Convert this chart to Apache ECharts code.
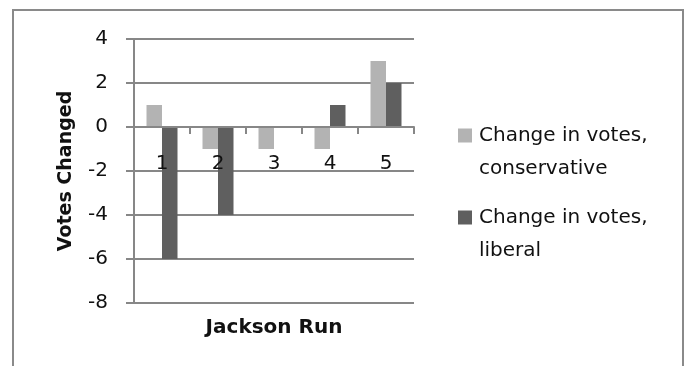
<!DOCTYPE html>
<html>
<head>
<meta charset="utf-8">
<script src="https://cdn.jsdelivr.net/npm/echarts@6/dist/echarts.min.js"></script>
<style>
  html, body { margin: 0; padding: 0; background: #fff; }
  #chart { width: 686px; height: 366px; }
</style>
</head>
<body>
<div id="chart"></div>
<script>
const categories = ["1", "2", "3", "4", "5"];
const conservative = [1, -1, -1, -1, 3];
const liberal = [-6, -4, 0, 1, 2];
const seriesNames = ["Change in votes,\nconservative", "Change in votes,\nliberal"];

const font = "DejaVu Sans";
const gridColor = "#878787";

const chart = echarts.init(document.getElementById("chart"));

chart.setOption({
  animation: false,
  textStyle: { fontFamily: font },
  graphic: [
    {
      type: "rect",
      shape: { x: 13, y: 10, width: 670, height: 380 },
      style: { fill: "none", stroke: "#8a8a8a", lineWidth: 2 },
    },
  ],
  grid: {
    left: 134,
    right: 272,
    top: 39,
    bottom: 63,
    containLabel: false,
    outerBoundsMode: "none",
  },
  legend: {
    orient: "vertical",
    left: 453,
    top: 81,
    itemWidth: 14,
    itemHeight: 14,
    itemGap: -17,
    icon: "rect",
    // leading blank line keeps the swatch level with the first text line
    formatter: (name) => "\n" + name,
    textStyle: {
      fontFamily: font,
      fontSize: 20,
      lineHeight: 33,
      color: "#111",
      padding: [0, 0, 0, 2],
    },
    data: seriesNames,
  },
  xAxis: {
    type: "category",
    data: categories,
    z: 5, // labels sit on top of the bars like the original
    name: "Jackson Run",
    nameLocation: "middle",
    nameGap: 15,
    nameTextStyle: { fontFamily: font, fontSize: 20, fontWeight: "bold", color: "#111" },
    axisLine: { onZero: true, lineStyle: { color: gridColor, width: 2 } },
    axisTick: { show: true, length: 7, lineStyle: { color: gridColor, width: 2 } },
    // labels are laid out from the grid bottom; pull them up under the zero line
    axisLabel: { fontFamily: font, fontSize: 20, color: "#111", margin: -149 },
  },
  yAxis: {
    type: "value",
    min: -8,
    max: 4,
    interval: 2,
    name: "Votes Changed",
    nameLocation: "middle",
    nameGap: 58,
    nameRotate: 90,
    nameTextStyle: { fontFamily: font, fontSize: 19, fontWeight: "bold", color: "#111" },
    axisLine: { show: true, lineStyle: { color: gridColor, width: 2 } },
    axisTick: { show: true, length: 8, lineStyle: { color: gridColor, width: 2 } },
    axisLabel: { fontFamily: font, fontSize: 20, color: "#111", margin: 26 },
    splitLine: { show: true, lineStyle: { color: gridColor, width: 2 } },
  },
  series: [
    {
      name: seriesNames[0],
      type: "bar",
      data: conservative,
      barWidth: 15.5,
      barGap: "0%",
      itemStyle: { color: "#b3b3b3" },
    },
    {
      name: seriesNames[1],
      type: "bar",
      data: liberal,
      barWidth: 15.5,
      itemStyle: { color: "#5f5f5f" },
    },
  ],
});
</script>
</body>
</html>
